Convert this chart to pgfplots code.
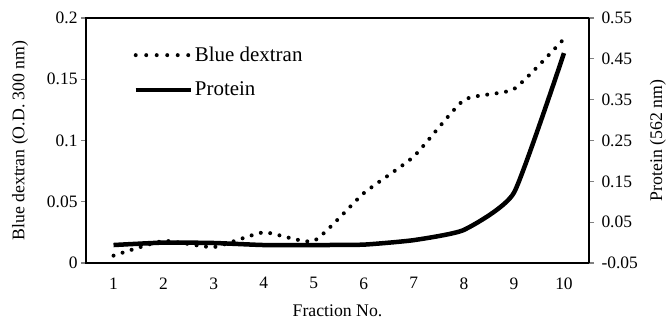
\documentclass[border=0pt]{standalone}
\usepackage{fontspec}
\setmainfont{Liberation Serif}
\usepackage{pgfplots}
\pgfplotsset{compat=1.18}
\begin{document}
\begin{tikzpicture}
\useasboundingbox (-86bp,-58bp) rectangle (583bp,263bp);
\begin{axis}[
  at={(0,0)}, anchor=south west,
  scale only axis, width=503bp, height=245bp,
  xmin=0.45, xmax=10.5, ymin=0, ymax=0.2,
  axis line style={line width=1.2bp},
  xtick={1,...,10}, xticklabels={1,2,3,4,5,6,7,8,9,10},
  xtick style={draw=none},
  ytick={0,0.05,0.1,0.15,0.2}, yticklabels={0,0.05,0.1,0.15,0.2},
  ytick pos=left, xtick pos=bottom,
  tick align=outside, major tick length=5bp,
  ytick style={line width=1.2bp},
  ticklabel style={font=\fontsize{17.5}{19}\selectfont},
  xticklabel style={yshift=-6bp},
  xlabel={Fraction No.}, ylabel={Blue dextran (O.D. 300 nm)},
  every axis y label/.style={at={(axis description cs:-0.131,0.5)}, anchor=center, rotate=90, font=\fontsize{17.8}{20}\selectfont},
  every axis x label/.style={at={(axis description cs:0.5,-0.196)}, anchor=center, font=\fontsize{17.8}{20}\selectfont},
]
\addplot[black, line width=4bp, line cap=round, dash pattern=on 0bp off 9.5bp, smooth, tension=0.3] coordinates {
(1,0.006) (2,0.018) (3,0.013) (4,0.025) (5,0.018) (6,0.057) (7,0.087) (8,0.133) (9,0.142) (10,0.183)};
\end{axis}
\begin{axis}[
  at={(0,0)}, anchor=south west,
  scale only axis, width=503bp, height=245bp,
  xmin=0.45, xmax=10.5, ymin=-0.05, ymax=0.55,
  axis x line=none, axis y line*=right,
  axis line style={line width=1.2bp},
  ytick={-0.05,0.05,0.15,0.25,0.35,0.45,0.55},
  yticklabels={-0.05,0.05,0.15,0.25,0.35,0.45,0.55},
  tick align=outside, major tick length=5bp,
  ytick style={line width=1.2bp},
  ticklabel style={font=\fontsize{17.5}{19}\selectfont},
  yticklabel style={xshift=4bp},
  ylabel={Protein (562 nm)},
  every axis y label/.style={at={(axis description cs:1.137,0.5)}, anchor=center, rotate=90, font=\fontsize{17.8}{20}\selectfont},
  legend style={at={(axis description cs:0.094,0.89)}, anchor=north west, draw=none, fill=none,
    font=\fontsize{21}{23}\selectfont, row sep=15bp, inner sep=0pt},
  legend cell align=left,
  legend image code/.code={\draw[#1] (0bp,0bp) -- (55bp,0bp);},
]
\addlegendimage{black, line width=4bp, line cap=round, dash pattern=on 0bp off 10.5bp}
\addlegendentry{Blue dextran}
\addplot[black, line width=4.5bp, smooth, tension=0.3] coordinates {
(1,-0.006) (2,0.0) (3,-0.001) (4,-0.006) (5,-0.006) (6,-0.005) (7,0.006) (8,0.031) (9,0.122) (10,0.464)};
\addlegendentry{Protein}
\end{axis}
\end{tikzpicture}
\end{document}
